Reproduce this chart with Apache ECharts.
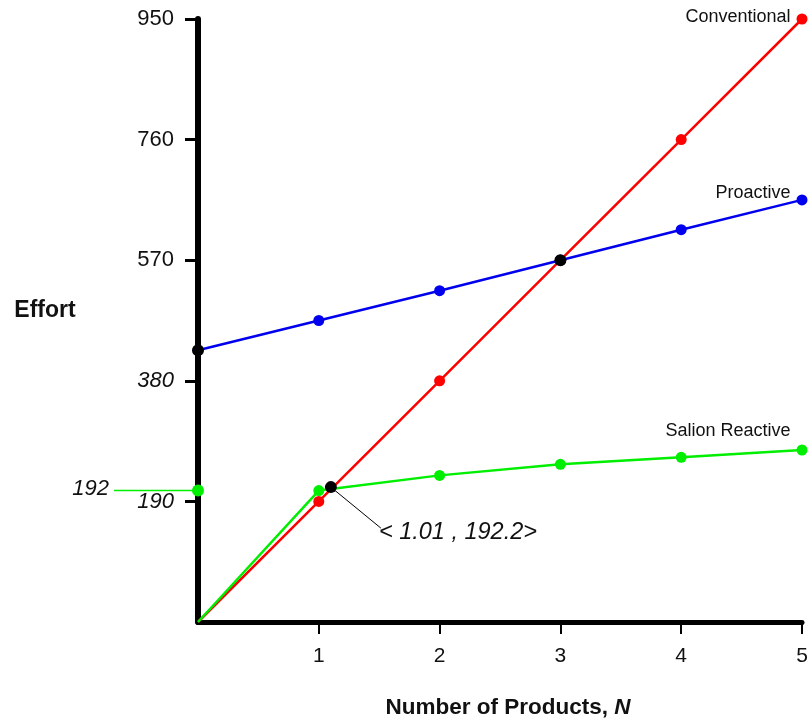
<!DOCTYPE html>
<html>
<head>
<meta charset="utf-8">
<script src="https://cdn.jsdelivr.net/npm/echarts@6/dist/echarts.min.js"></script>
<style>html,body{margin:0;padding:0;background:#fff}#c{width:812px;height:721px}</style>
</head>
<body>
<div id="c"></div>
<script>
// ---- data ----
const products = [0, 1, 2, 3, 4, 5];
const conventional = [0, 190, 380, 570, 760, 950];
const proactive = [428, 475, 522, 570, 618, 665];
const salionReactive = [0, 207, 231, 248.5, 259.5, 271];
const salionStart = [[0, 207]];
const intersections = [[0, 428], [3, 570], [1.10, 212.5]];
const yTicks = [190, 380, 570, 760, 950];
const yItalicTicks = [190, 380];
const xTicks = [1, 2, 3, 4, 5];
const seriesNames = ['Conventional', 'Proactive', 'Salion Reactive'];
const startLabel = '192';
const crossLabel = '< 1.01 , 192.2>';

const FONT = '"Liberation Sans", Arial, Helvetica, sans-serif';

function lineData(ys, name, offset) {
  const d = products.map((x, i) => [x, ys[i]]);
  return d.map((p, i) => {
    if (i === 0 && ys[i] === 0) return { value: p, symbol: 'none' };
    if (i === d.length - 1) {
      return {
        value: p,
        label: {
          show: true, formatter: name, position: 'left', distance: 6,
          offset: offset, color: '#111', fontFamily: FONT, fontSize: 18
        }
      };
    }
    return p;
  });
}

const chart = echarts.init(document.getElementById('c'), null, { renderer: 'canvas' });

const option = {
  animation: false,
  backgroundColor: '#ffffff',
  grid: { left: 198, right: 10, top: 19, bottom: 99, containLabel: false },
  xAxis: {
    type: 'value', min: 0, max: 5, interval: 1,
    axisLine: { show: true, lineStyle: { color: '#000', width: 5 } },
    axisTick: { show: true, length: 12, customValues: xTicks, lineStyle: { color: '#000', width: 2 } },
    splitLine: { show: false },
    axisLabel: {
      margin: 24, color: '#111', fontFamily: FONT, fontSize: 21,
      customValues: xTicks,
      formatter: v => String(v)
    }
  },
  yAxis: {
    type: 'value', min: 0, max: 950, interval: 190,
    axisLine: { show: true, lineStyle: { color: '#000', width: 6 } },
    axisTick: { show: true, length: 13, customValues: yTicks, lineStyle: { color: '#000', width: 3 } },
    splitLine: { show: false },
    axisLabel: {
      margin: 24, color: '#111', fontFamily: FONT, fontSize: 22,
      customValues: yTicks,
      formatter: v => (yItalicTicks.includes(v) ? '{i|' + v + '}' : String(v)),
      rich: { i: { fontStyle: 'italic', fontFamily: FONT, fontSize: 22, color: '#111' } }
    }
  },
  series: [
    {
      name: seriesNames[0], type: 'line', data: lineData(conventional, seriesNames[0], [0, -2]),
      symbol: 'circle', symbolSize: 11,
      lineStyle: { color: '#ff0000', width: 2.5 }, itemStyle: { color: '#ff0000' }, z: 3
    },
    {
      name: seriesNames[1], type: 'line', data: lineData(proactive, seriesNames[1], [0, -7]),
      symbol: 'circle', symbolSize: 11,
      lineStyle: { color: '#0000ee', width: 2.5 }, itemStyle: { color: '#0000ee' }, z: 3
    },
    {
      name: seriesNames[2], type: 'line', data: lineData(salionReactive, seriesNames[2], [0, -19]),
      symbol: 'circle', symbolSize: 11,
      lineStyle: { color: '#00ee00', width: 2.5 }, itemStyle: { color: '#00ee00' }, z: 4
    },
    {
      name: 'salionStart', type: 'scatter', data: salionStart, symbolSize: 12,
      itemStyle: { color: '#00ee00', opacity: 1 }, z: 5
    },
    {
      name: 'intersections', type: 'scatter', data: intersections, symbolSize: 12,
      itemStyle: { color: '#000', opacity: 1 }, z: 6
    }
  ]
};
chart.setOption(option);

const pStart = chart.convertToPixel({ gridIndex: 0 }, salionStart[0]);
const pCross = chart.convertToPixel({ gridIndex: 0 }, intersections[2]);

chart.setOption({
  graphic: [
    { type: 'line', shape: { x1: pStart[0] - 84, y1: pStart[1], x2: pStart[0], y2: pStart[1] },
      style: { stroke: '#00ee00', lineWidth: 1.5 }, z: 2 },
    { type: 'text', x: pStart[0] - 89, y: pStart[1] - 2,
      style: { text: startLabel, font: 'italic 22px ' + FONT, fill: '#111', textAlign: 'right', textVerticalAlign: 'middle' } },
    { type: 'line', shape: { x1: pCross[0], y1: pCross[1], x2: pCross[0] + 50, y2: pCross[1] + 41 },
      style: { stroke: '#000', lineWidth: 1 }, z: 2 },
    { type: 'text', x: pCross[0] + 48, y: pCross[1] + 45,
      style: { text: crossLabel, font: 'italic 23.5px ' + FONT, fill: '#111', textAlign: 'left', textVerticalAlign: 'middle' } },
    { type: 'text', x: 45, y: 311,
      style: { text: 'Effort', font: 'bold 23px ' + FONT, fill: '#111', textAlign: 'center', textVerticalAlign: 'middle' } },
    { type: 'text', x: 508, y: 708,
      style: { text: '{b|Number of Products, }{bi|N}', textAlign: 'center', textVerticalAlign: 'middle',
        rich: { b: { font: 'bold 22.5px ' + FONT, fill: '#111' }, bi: { font: 'italic bold 22.5px ' + FONT, fill: '#111' } } } }
  ]
});
</script>
</body>
</html>
